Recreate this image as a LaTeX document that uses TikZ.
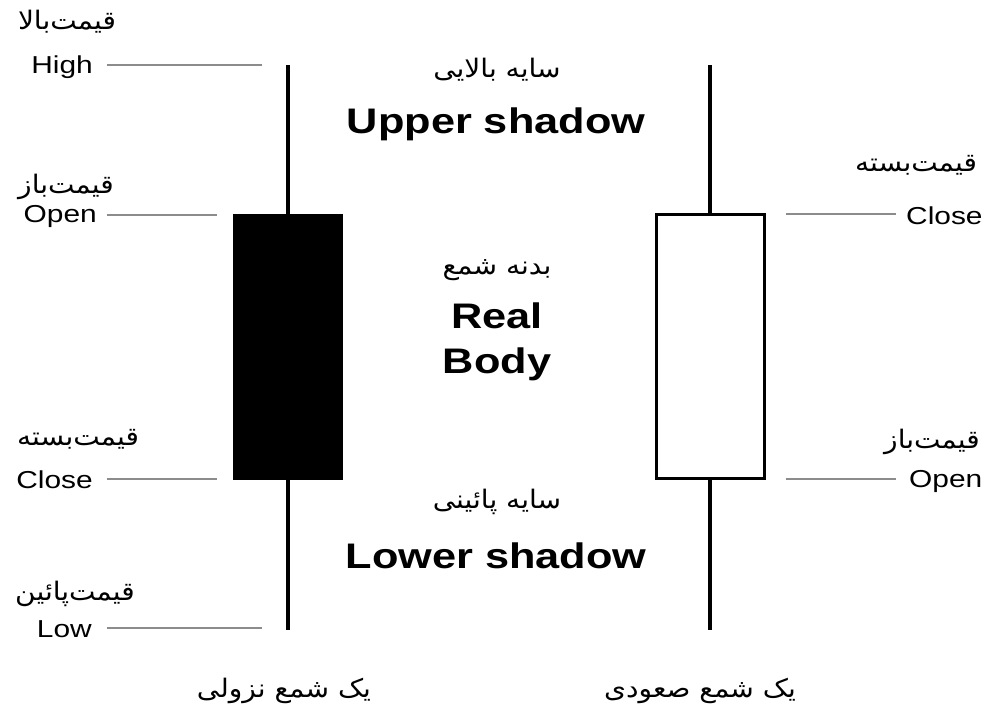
\documentclass[tikz,border=0pt]{standalone}
\usepackage{fontspec}
\setmainfont[FakeStretch=1.22]{Liberation Sans}
\newfontfamily\fa[Script=Arabic,FakeStretch=1.1]{DejaVu Sans}
\TeXXeTstate=1
\begin{document}
\begin{tikzpicture}[x=1pt,y=-1pt,
  lbl/.style={inner sep=0pt,font=\fontsize{24.5}{26}\selectfont},
  falbl/.style={inner sep=0pt,font=\fa\fontsize{25.5}{28}\selectfont},
  big/.style={inner sep=0pt,font=\bfseries\fontsize{35.5}{45}\selectfont,align=center},
  leader/.style={draw=black!45,line width=1.6pt},
  wick/.style={line width=4.5pt},
]
\useasboundingbox (0,0) rectangle (986,704);
% candles
\coordinate (lTop) at (288,65);
\coordinate (lBot) at (288,630);
\coordinate (rTop) at (710,65);
\coordinate (rBot) at (710,630);
\draw[wick] (lTop) -- (lBot);
\draw[wick] (rTop) -- (rBot);
\node[fill=black,draw=black,minimum width=109pt,minimum height=265pt,inner sep=0pt] (lbody) at (287.5,346.5) {};
\node[fill=white,draw=black,line width=3.5pt,minimum width=108pt,minimum height=264pt,inner sep=0pt] (rbody) at (710.5,346.5) {};
% left labels
\node[lbl,anchor=east] (high) at (93,67) {High};
\node[falbl] (faHigh) at (67,22) {\beginR قیمت‌بالا\endR};
\node[lbl,anchor=east] (openL) at (97,216) {Open};
\node[falbl] (faOpenL) at (66,187) {\beginR قیمت‌باز\endR};
\node[lbl,anchor=east] (closeL) at (93,480) {Close};
\node[falbl] (faCloseL) at (78,439) {\beginR قیمت‌بسته\endR};
\node[lbl,anchor=east] (low) at (92,629) {Low};
\node[falbl] (faLow) at (75,594) {\beginR قیمت‌پائین\endR};
\coordinate (hStart) at (107,65);
\coordinate (hEnd) at (262,65);
\coordinate (oStart) at (107,215);
\coordinate (oEnd) at (217,215);
\coordinate (cStart) at (107,479);
\coordinate (cEnd) at (217,479);
\coordinate (lStart) at (107,628);
\coordinate (lEnd) at (262,628);
\draw[leader] (hStart) -- (hEnd);
\draw[leader] (oStart) -- (oEnd);
\draw[leader] (cStart) -- (cEnd);
\draw[leader] (lStart) -- (lEnd);
% right labels
\node[lbl,anchor=west] (closeR) at (906,216) {Close};
\node[falbl] (faCloseR) at (916,165) {\beginR قیمت‌بسته\endR};
\node[lbl,anchor=west] (openR) at (909,481) {Open};
\node[falbl] (faOpenR) at (932,442) {\beginR قیمت‌باز\endR};
\coordinate (crStart) at (786,214);
\coordinate (crEnd) at (896,214);
\coordinate (orStart) at (786,479);
\coordinate (orEnd) at (896,479);
\draw[leader] (crStart) -- (crEnd);
\draw[leader] (orStart) -- (orEnd);
% centre labels
\node[falbl] (faUpper) at (497,70) {\beginR سایه بالایی\endR};
\node[big] (upper) at (496,124) {Upper shadow};
\node[falbl] (faBody) at (497,270) {\beginR بدنه شمع\endR};
\node[big] (real) at (497,342) {Real\\Body};
\node[falbl] (faLower) at (497,502) {\beginR سایه پائینی\endR};
\node[big] (lower) at (496,556) {Lower shadow};
% bottom
\node[falbl] (bear) at (284,691) {\beginR یک شمع نزولی\endR};
\node[falbl] (bull) at (700,691) {\beginR یک شمع صعودی\endR};
\end{tikzpicture}
\end{document}
